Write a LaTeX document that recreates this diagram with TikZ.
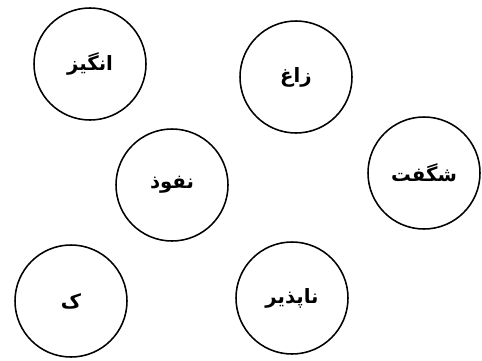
\documentclass[tikz,border=0pt]{standalone}
\usepackage{fontspec}
\newfontfamily\arabicfont[Script=Arabic]{DejaVu Sans}
\TeXXeTstate=1
\usepackage{tikz}

\begin{document}
\begin{tikzpicture}[
        word/.style={
            circle,
            draw=black,
            line width=1.1pt,
            minimum size=2.8cm,
            inner sep=0pt,
            font=\arabicfont\bfseries\fontsize{14}{16}\selectfont
        }
    ]
    \useasboundingbox (0,0) rectangle (12.05,9);

    % Word circles
    \node[word] (angiz) at (2.25,7.40) {\beginR انگیز\endR};
    \node[word] (zagh) at (7.40,7.075) {\beginR زاغ\endR};
    \node[word] (nofuz) at (4.30,4.375) {\beginR نفوذ\endR};
    \node[word] (shegeft) at (10.60,4.675) {\beginR شگفت\endR};
    \node[word] (kaf) at (1.775,1.475) {\beginR ک\endR};
    \node[word] (napazir) at (7.30,1.55) {\beginR ناپذیر\endR};

\end{tikzpicture}
\end{document}
